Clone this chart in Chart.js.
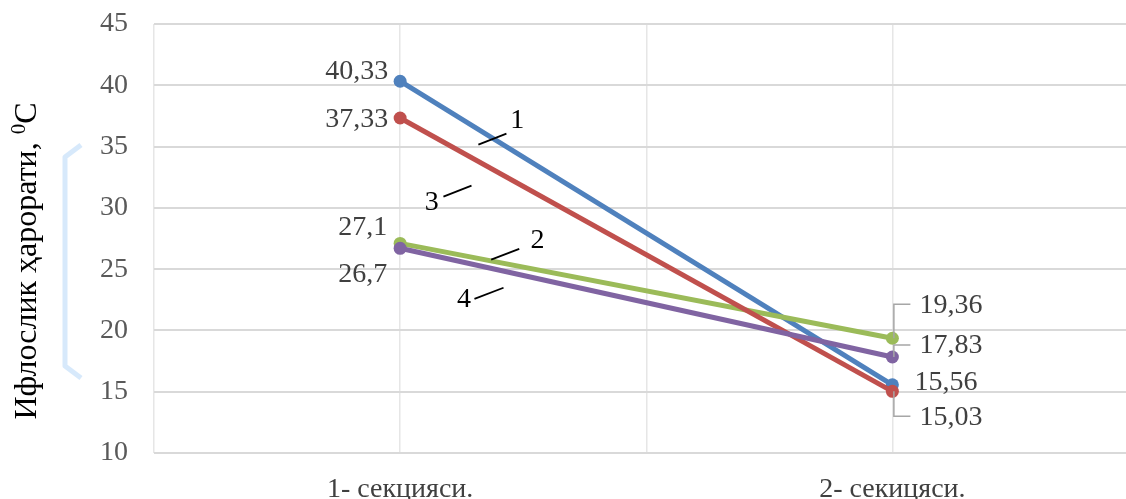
<!DOCTYPE html>
<html>
<head>
<meta charset="utf-8">
<script src="https://cdn.jsdelivr.net/npm/chart.js@4/dist/chart.umd.min.js"></script>
<style>
  html, body { margin: 0; padding: 0; background: #fff; overflow: hidden; }
  #wrap { width: 1145px; height: 499px; }
</style>
</head>
<body>
<div id="wrap"><canvas id="c" width="1145" height="499"></canvas></div>
<script>
// Categories and measured temperatures (°C) for each section
const categories = ['1- секцияси.', '2- секицяси.'];
const series1 = [40.33, 15.56];   // curve "1"
const series2 = [27.1, 19.36];    // curve "2"
const series3 = [37.33, 15.03];   // curve "3"
const series4 = [26.7, 17.83];    // curve "4"
const yTickValues = [10, 15, 20, 25, 30, 35, 40, 45];
const seriesNames = ['1', '2', '3', '4'];

// Curve tags: leader stroke from (x0,y0) to (x1,y1) and the tag text, in data units
const tagX0 = [0.159, 0.185, 0.088, 0.151];
const tagY0 = [35.16, 25.77, 30.91, 22.58];
const tagX1 = [0.216, 0.242, 0.145, 0.210];
const tagY1 = [36.06, 26.66, 31.81, 23.48];
const tagTextX = [0.238, 0.279, 0.064, 0.130];
const tagTextY = [37.1, 27.3, 30.4, 22.5];

const FONT = '"Liberation Serif", "Times New Roman", serif';
const TXT = '#404040';
const FS = 28;

const colors = ['#4F81BD', '#9BBB59', '#C0504D', '#8064A2'];
const drawOrder = [4, 3, 2, 1];
const values = [series1, series2, series3, series4];

// Value label placement (pixel offsets from each point) and optional elbow leaders
const labelStyle = [
  [{dx: -12, dy: -10, align: 'right'}, {dx: 22, dy: -2, align: 'left'}],
  [{dx: -13, dy: -16, align: 'right'}, {dx: 27, dy: -33, align: 'left', leader: true}],
  [{dx: -12, dy: 2, align: 'right'},   {dx: 27, dy: 26, align: 'left', leader: true}],
  [{dx: -13, dy: 26, align: 'right'},  {dx: 27, dy: -11, align: 'left', leader: true}]
];

const fmt = v => String(v).replace('.', ',');

const datasets = values.map((vals, i) => ({
  label: seriesNames[i],
  data: vals.map((v, k) => ({x: k, y: v})),
  borderColor: colors[i],
  backgroundColor: colors[i],
  borderWidth: 5,
  pointRadius: 6.5,
  pointHoverRadius: 6.5,
  pointBorderWidth: 0,
  tension: 0,
  order: drawOrder[i]
}));

const decor = {
  id: 'decor',
  beforeDraw(chart) {
    const ctx = chart.ctx;
    ctx.save();
    // faint bracket beside the axis title
    ctx.strokeStyle = 'rgba(205,228,250,0.8)';
    ctx.lineWidth = 5;
    ctx.lineJoin = 'round';
    ctx.beginPath();
    ctx.moveTo(81, 145);
    ctx.lineTo(65, 157);
    ctx.lineTo(65, 366);
    ctx.lineTo(81, 378);
    ctx.stroke();

    // rotated y-axis title with superscript degree mark
    ctx.fillStyle = '#000';
    ctx.translate(36, 261);
    ctx.rotate(-Math.PI / 2);
    const main = 'Ифлослик ҳарорати, ';
    ctx.font = '32px ' + FONT;
    const wMain = ctx.measureText(main).width;
    ctx.font = '21px ' + FONT;
    const wSup = ctx.measureText('0').width;
    ctx.font = '32px ' + FONT;
    const wC = ctx.measureText('C').width;
    let x = -(wMain + wSup + wC) / 2;
    ctx.textBaseline = 'alphabetic';
    ctx.textAlign = 'left';
    ctx.fillText(main, x, 0);
    x += wMain;
    ctx.font = '21px ' + FONT;
    ctx.fillText('0', x, -11);
    x += wSup;
    ctx.font = '32px ' + FONT;
    ctx.fillText('C', x, 0);
    ctx.restore();
  },
  afterDatasetsDraw(chart) {
    const ctx = chart.ctx;
    const xs = chart.scales.x, ys = chart.scales.y;
    ctx.save();
    ctx.font = FS + 'px ' + FONT;
    ctx.textBaseline = 'middle';
    values.forEach((vals, i) => {
      vals.forEach((v, k) => {
        const px = xs.getPixelForValue(k), py = ys.getPixelForValue(v);
        const st = labelStyle[i][k];
        const lx = px + st.dx, ly = py + st.dy;
        if (st.leader) {
          ctx.strokeStyle = '#A6A6A6';
          ctx.lineWidth = 1.5;
          ctx.beginPath();
          ctx.moveTo(px + 1.5, py);
          ctx.lineTo(px + 1.5, ly - 1);
          ctx.lineTo(lx - 9, ly - 1);
          ctx.stroke();
        }
        ctx.fillStyle = TXT;
        ctx.textAlign = st.align;
        ctx.fillText(fmt(v), lx, ly);
      });
    });
    // curve number tags
    ctx.strokeStyle = '#000';
    ctx.fillStyle = '#000';
    ctx.lineWidth = 1.8;
    ctx.textAlign = 'center';
    ctx.font = FS + 'px ' + FONT;
    seriesNames.forEach((name, i) => {
      ctx.beginPath();
      ctx.moveTo(xs.getPixelForValue(tagX0[i]), ys.getPixelForValue(tagY0[i]));
      ctx.lineTo(xs.getPixelForValue(tagX1[i]), ys.getPixelForValue(tagY1[i]));
      ctx.stroke();
      ctx.fillText(name, xs.getPixelForValue(tagTextX[i]), ys.getPixelForValue(tagTextY[i]));
    });
    ctx.restore();
  }
};

new Chart(document.getElementById('c'), {
  type: 'line',
  data: { datasets },
  options: {
    responsive: false,
    animation: false,
    events: [],
    layout: { padding: { top: 24, right: 3, left: 0, bottom: 0 } },
    plugins: { legend: { display: false }, tooltip: { enabled: false } },
    scales: {
      x: {
        type: 'linear',
        min: -0.5,
        max: categories.length - 0.5,
        afterFit(s) { s.height = 46; s.paddingLeft = 0; s.paddingRight = 0; },
        afterBuildTicks(s) {
          const t = [];
          for (let v = -0.5; v <= categories.length - 0.5 + 1e-9; v += 0.5) t.push({value: v});
          s.ticks = t;
        },
        ticks: {
          autoSkip: false,
          maxRotation: 0,
          padding: 20,
          color: TXT,
          font: { family: FONT, size: FS },
          callback: v => Number.isInteger(v) ? categories[v] : ''
        },
        grid: { color: '#E6E6E6', lineWidth: 1.5, drawTicks: false },
        border: { display: false }
      },
      y: {
        min: yTickValues[0],
        max: yTickValues[yTickValues.length - 1],
        afterFit(s) { s.width = 154; s.paddingTop = 0; s.paddingBottom = 0; },
        afterBuildTicks(s) { s.ticks = yTickValues.map(v => ({value: v})); },
        ticks: {
          padding: 26,
          color: '#595959',
          font: { family: FONT, size: FS }
        },
        grid: { color: '#D9D9D9', lineWidth: 2, drawTicks: false },
        border: { display: false }
      }
    }
  },
  plugins: [decor]
});
</script>
</body>
</html>
